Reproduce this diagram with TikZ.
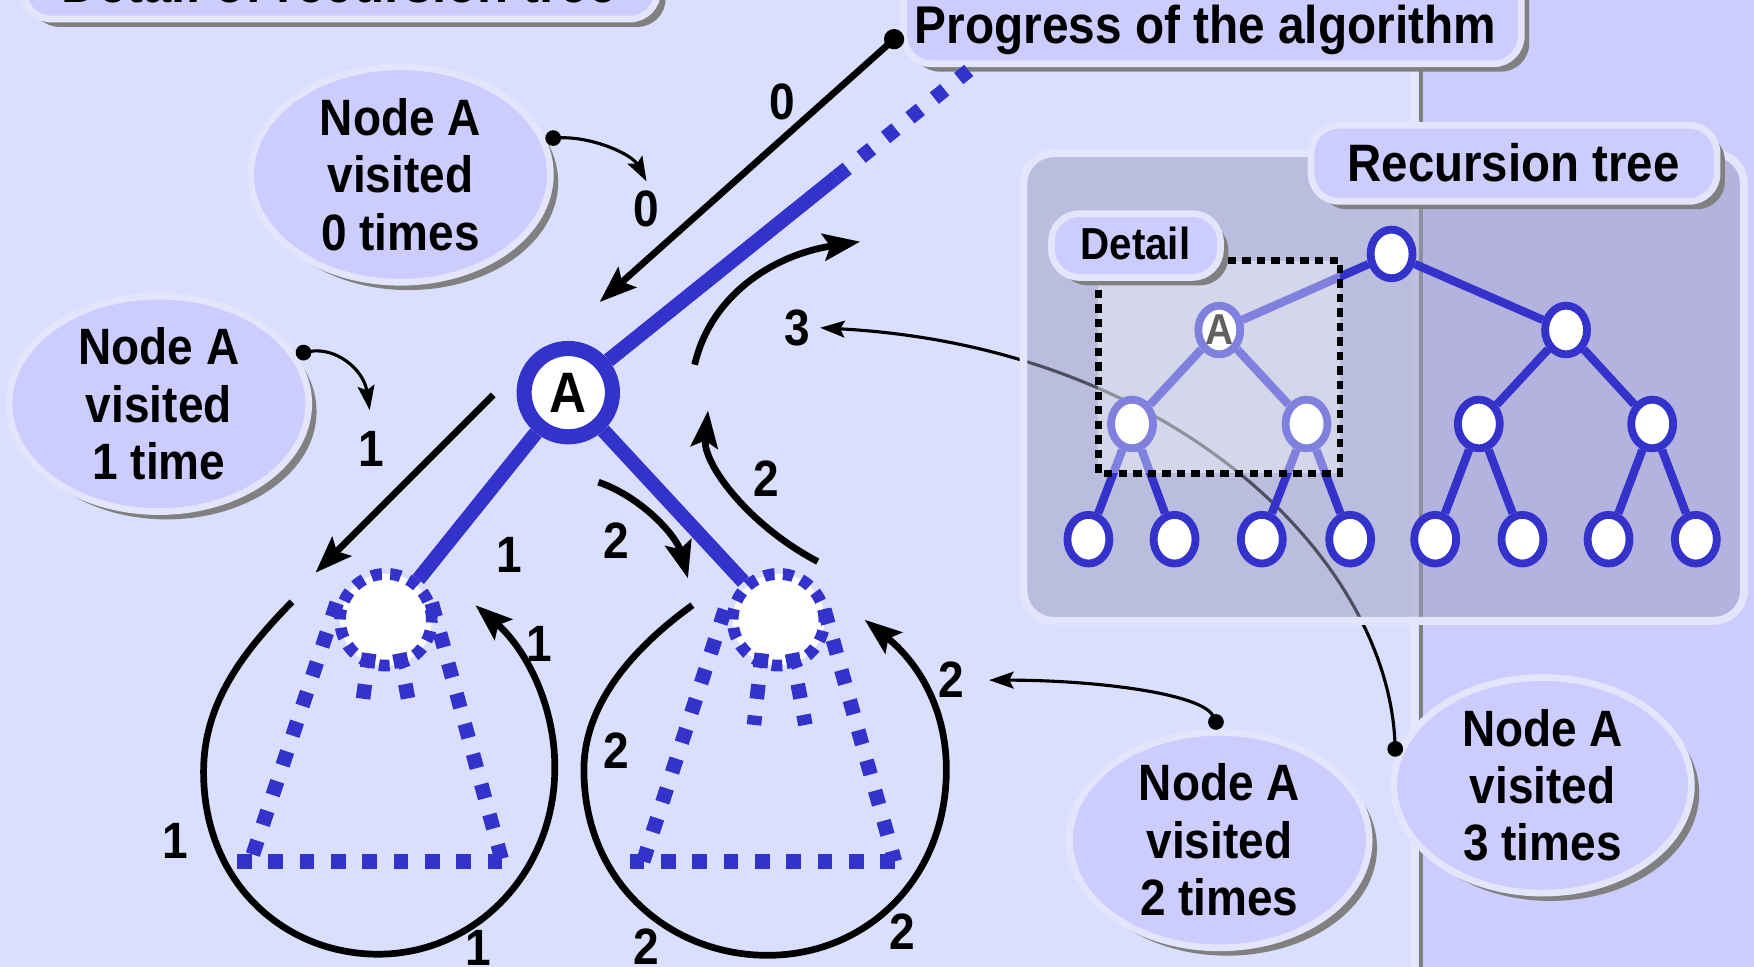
\documentclass[tikz,border=0pt]{standalone}
\usepackage{fontspec}
\setmainfont{Liberation Sans}[FakeStretch=0.9]
\usetikzlibrary{arrows.meta,shapes.geometric,shadows}
\definecolor{bgL}{RGB}{217,223,252}
\definecolor{bgR}{RGB}{204,204,255}
\definecolor{stripL}{RGB}{228,230,253}
\definecolor{boxF}{RGB}{204,204,255}
\definecolor{boxB}{RGB}{228,228,252}
\definecolor{shad}{RGB}{128,128,128}
\definecolor{tblue}{RGB}{51,51,204}
\definecolor{panelF}{RGB}{157,156,192}
\begin{document}
\begin{tikzpicture}[x=0.1mm,y=-0.1mm,
  num/.style={font=\bfseries\fontsize{13}{15}\selectfont, inner sep=0.8mm},
  callout/.style={ellipse, fill=boxF, draw=boxB, line width=0.6mm, inner sep=0pt, align=center,
    font=\bfseries\fontsize{13}{14.6}\selectfont,
    drop shadow={shadow xshift=0.7mm, shadow yshift=-0.7mm, fill=shad, opacity=1}},
  boxpath/.style={fill=boxF, draw=boxB, line width=0.6mm, rounded corners=2.5mm},
  shadowpath/.style={fill=shad, rounded corners=2.5mm},
  bigarrow/.style={line width=0.6mm, -{Stealth[length=3.3mm,width=2.4mm,inset=0.6mm]}},
  thinarrow/.style={line width=0.28mm, {Circle[length=1.4mm]}-{Stealth[length=2.2mm,width=1.5mm,inset=0.4mm]}},
  tedge/.style={draw=tblue, line width=1.3mm},
  tri/.style={draw=tblue, line width=1.3mm, dash pattern=on 1.3mm off 1.5mm},
  anode/.style={circle, minimum size=7.9mm, line width=1.35mm, draw=tblue, fill=white, inner sep=0pt,
    font=\bfseries\fontsize{14.5}{16}\selectfont},
  childc/.style={circle, minimum size=8.2mm, fill=white, draw=tblue, line width=1.05mm,
    dash pattern=on 0.95mm off 0.75mm, inner sep=0pt},
  tnode/.style={ellipse, minimum width=3.75mm, minimum height=4.35mm, inner sep=0pt, fill=white,
    draw=tblue, line width=0.7mm, font=\bfseries\fontsize{11}{12}\selectfont},
  tline/.style={draw=tblue, line width=0.75mm}
]
\useasboundingbox (0,0) rectangle (1568,864);
% backgrounds
\fill[bgL] (0,0) rectangle (1568,864);
\fill[bgR] (1272,0) rectangle (1568,864);
\fill[stripL] (1261,0) rectangle (1268,864);
\draw[shad, line width=0.35mm] (1270,0) -- (1270,864);

% title box (cut at top)
\fill[shadowpath] (28,-33) rectangle (595,24);
\draw[boxpath] (21,-40) rectangle (588,17);
\node[font=\bfseries\fontsize{14.4}{16}\selectfont, anchor=base, inner sep=0pt] (title) at (303,2) {Detail of recursion tree};

% progress box
\fill[shadowpath] (815,-23) rectangle (1367,64);
\draw[boxpath] (808,-30) rectangle (1360,57);
\node[font=\bfseries\fontsize{13.5}{15}\selectfont, anchor=base west, inner sep=0pt] (prog) at (817,39) {Progress of the algorithm};

% callout for 3 (behind panel)
\node[callout, minimum width=26.6mm, minimum height=18mm] (e3) at (1379,702) {Node A\\visited\\3 times};
\node[num] (n3) at (713,293) {3};
\draw[thinarrow] (e3.169) .. controls (1240,500) and (1050,310) .. (n3.east);

% recursion tree panel
\draw[fill=panelF, fill opacity=0.5, draw=boxB, line width=0.7mm, rounded corners=2.7mm] (915,137) rectangle (1559,555);

% tree
\node[tnode] (r) at (1244,227) {};
\node[tnode] (a1) at (1090,295) {A};
\node[tnode] (b1) at (1400,295) {};
\node[tnode] (c1) at (1012,379) {};
\node[tnode] (c2) at (1168,379) {};
\node[tnode] (c3) at (1322,379) {};
\node[tnode] (c4) at (1477,379) {};
\node[tnode] (d1) at (973,482) {};
\node[tnode] (d2) at (1050,482) {};
\node[tnode] (d3) at (1128,482) {};
\node[tnode] (d4) at (1207,482) {};
\node[tnode] (d5) at (1283,482) {};
\node[tnode] (d6) at (1361,482) {};
\node[tnode] (d7) at (1438,482) {};
\node[tnode] (d8) at (1516,482) {};
\draw[tline] (r) -- (a1); \draw[tline] (r) -- (b1);
\draw[tline] (a1) -- (c1); \draw[tline] (a1) -- (c2);
\draw[tline] (b1) -- (c3); \draw[tline] (b1) -- (c4);
\draw[tline] (c1) -- (d1); \draw[tline] (c1) -- (d2);
\draw[tline] (c2) -- (d3); \draw[tline] (c2) -- (d4);
\draw[tline] (c3) -- (d5); \draw[tline] (c3) -- (d6);
\draw[tline] (c4) -- (d7); \draw[tline] (c4) -- (d8);

% detail highlight
\fill[white, fill opacity=0.38] (982,233) rectangle (1198,423);
\draw[black, line width=0.6mm, dash pattern=on 0.75mm off 0.55mm] (982,233) rectangle (1198,423);

% detail box
\fill[shadowpath] (947,198) rectangle (1098,255);
\draw[boxpath] (940,191) rectangle (1091,248);
\node[font=\bfseries\fontsize{11.4}{13}\selectfont, anchor=base, inner sep=0pt] (det) at (1015,232) {Detail};

% recursion tree box
\fill[shadowpath] (1179,119) rectangle (1542,187);
\draw[boxpath] (1172,112) rectangle (1535,180);
\node[font=\bfseries\fontsize{13.4}{15}\selectfont, anchor=base, inner sep=0pt] (rt) at (1353,162) {Recursion tree};

% other callouts
\node[callout, minimum width=26.8mm, minimum height=17.4mm] (e0) at (358,156) {Node A\\visited\\0 times};
\node[callout, minimum width=26.8mm, minimum height=17.6mm] (e1) at (142,361) {Node A\\visited\\1 time};
\node[callout, minimum width=26.8mm, minimum height=17.6mm] (e2) at (1090,751) {Node A\\visited\\2 times};

% main tree fragment
\coordinate (s1) at (748,158);
\coordinate (s2) at (866,63);
\node[childc] (L) at (345,554) {};
\node[childc] (R) at (696,554) {};

% subtree triangles
\draw[tri] (301,539) -- (224,770);
\draw[tri] (386,539) -- (449,770);
\draw[tri] (212,770) -- (456,770);
\draw[tri] (330,584) -- (323,636);
\draw[tri] (357,584) -- (367,636);
\draw[tri] (648,545) -- (575,770);
\draw[tri] (737,545) -- (800,770);
\draw[tri] (563,770) -- (807,770);
\draw[tri] (681,584) -- (674,648);
\draw[tri] (708,584) -- (720,648);

\node[anode] (A) at (508,351) {A};
\draw[tedge] (A) -- (s1);
\draw[tedge, dash pattern=on 1.2mm off 1.6mm] (s1) -- (s2);
\draw[tedge] (A) -- (L);
\draw[tedge] (A) -- (R);

% labels
\node[num] (l0a) at (699,91) {0};
\node[num] (l0b) at (578,187) {0};
\node[num] (l1a) at (332,401) {1};
\node[num] (l1b) at (455,496) {1};
\node[num] (l2a) at (551,483) {2};
\node[num] (l2b) at (685,428) {2};
\node[num] (l1c) at (482,576) {1};
\node[num] (l1d) at (157,752) {1};
\node[num] (l1e) at (428,847) {1};
\node[num] (l2c) at (551,671) {2};
\node[num] (l2d) at (578,846) {2};
\node[num] (l2e) at (807,833) {2};
\node[num] (l2f) at (850,608) {2};

% progress arrows
\coordinate (p0) at (806,29);
\coordinate (p0e) at (536,270);
\draw[line width=0.6mm, {Circle[length=1.8mm]}-{Stealth[length=3.3mm,width=2.4mm,inset=0.6mm]}] (p0) -- (p0e);
\coordinate (p1) at (441,353);
\coordinate (p1e) at (282,512);
\draw[bigarrow] (p1) -- (p1e);
\coordinate (p2) at (535,431);
\coordinate (p2e) at (615,517);
\draw[bigarrow] (p2) .. controls (575,445) and (605,480) .. (p2e);
\coordinate (p3) at (731,502);
\coordinate (p3e) at (633,367);
\draw[bigarrow] (p3) .. controls (670,470) and (628,415) .. (p3e);
\coordinate (p4) at (621,326);
\coordinate (p4e) at (769,216);
\draw[bigarrow] (p4) .. controls (635,265) and (690,228) .. (p4e);
% loops
\coordinate (lp1) at (261,538);
\coordinate (lp1e) at (425,541);
\draw[bigarrow] (lp1) .. controls (215,585) and (182,630) .. (182,690)
  .. controls (182,790) and (255,853) .. (338,853)
  .. controls (425,853) and (496,780) .. (496,686)
  .. controls (496,630) and (470,580) .. (lp1e);
\coordinate (lp2) at (619,541);
\coordinate (lp2e) at (773,554);
\draw[bigarrow] (lp2) .. controls (565,580) and (522,630) .. (522,688)
  .. controls (522,790) and (600,854) .. (686,854)
  .. controls (775,854) and (846,785) .. (846,688)
  .. controls (846,630) and (818,590) .. (lp2e);

% callout arrows
\draw[thinarrow] (e0.14) .. controls (530,122) and (565,138) .. (l0b.north);
\draw[thinarrow, shorten >=1mm] (e1.20) .. controls (300,310) and (325,330) .. (l1a.north);
\draw[thinarrow, shorten >=1.4mm] (e2.90) .. controls (1075,620) and (980,608) .. (l2f.east);
\end{tikzpicture}
\end{document}
